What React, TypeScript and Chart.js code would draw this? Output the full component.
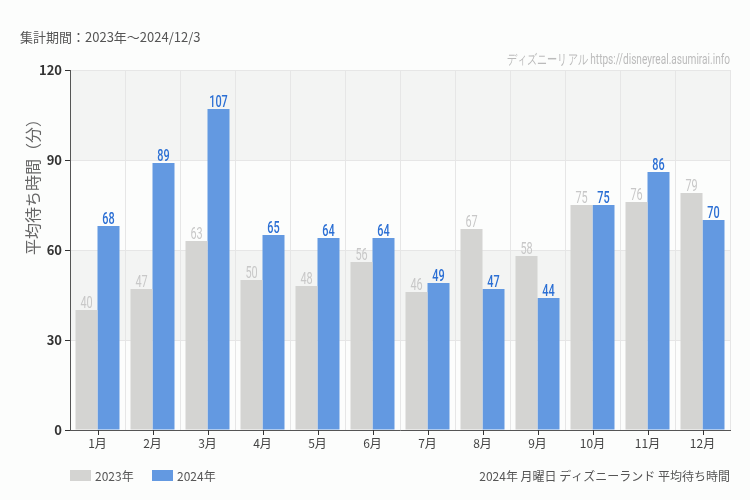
import React, { useEffect, useRef } from "react";
import { Chart, registerables } from "chart.js";

Chart.register(...registerables);

const months = ["1月", "2月", "3月", "4月", "5月", "6月", "7月", "8月", "9月", "10月", "11月", "12月"];
const values2023 = [40, 47, 63, 50, 48, 56, 46, 67, 58, 75, 76, 79];
const values2024 = [68, 89, 107, 65, 64, 64, 49, 47, 44, 75, 86, 70];
const seriesNames = ["2023年", "2024年"];
const yTicks = [0, 30, 60, 90, 120];

const titleText = "集計期間：2023年～2024/12/3";
const watermark = "ディズニーリアル https://disneyreal.asumirai.info";
const footerText = "2024年 月曜日 ディズニーランド 平均待ち時間";
const yTitle = "平均待ち時間（分）";

const GRAY = "#d4d4d2";
const BLUE = "#6399e1";
const BG = "#fcfdfc";
const BAND = "#f3f4f3";
const JP = '"Noto Sans CJK JP", "Noto Sans", sans-serif';

function narrowText(ctx: any, text: string, x: number, y: number, sx: number, align: string) {
  ctx.save();
  ctx.translate(x, y);
  ctx.scale(sx, 1);
  ctx.textAlign = align;
  ctx.fillText(text, 0, 0);
  ctx.restore();
}

const decor = {
  id: "decor",
  beforeDraw(chart: any) {
    const { ctx, chartArea, scales } = chart;
    ctx.save();
    ctx.fillStyle = BG;
    ctx.fillRect(0, 0, chart.width, chart.height);
    const y = scales.y;
    for (let i = 0; i < yTicks.length - 1; i++) {
      if (i % 2 === 1) {
        const top = y.getPixelForValue(yTicks[i + 1]);
        const bot = y.getPixelForValue(yTicks[i]);
        ctx.fillStyle = BAND;
        ctx.fillRect(chartArea.left, top, chartArea.right - chartArea.left, bot - top);
      }
    }
    ctx.restore();
  },
  afterDraw(chart: any) {
    const { ctx, chartArea, scales } = chart;
    ctx.save();
    const x = scales.x;
    ctx.strokeStyle = "#333";
    ctx.lineWidth = 1;
    for (let i = 0; i < months.length; i++) {
      const px = Math.round(x.getPixelForValue(i)) + 0.5;
      ctx.beginPath();
      ctx.moveTo(px, chartArea.bottom);
      ctx.lineTo(px, chartArea.bottom + 5);
      ctx.stroke();
    }
    // data labels
    chart.data.datasets.forEach((ds: any, di: number) => {
      const meta = chart.getDatasetMeta(di);
      ctx.font = di === 0 ? `16px Roboto` : `500 16px Roboto`;
      ctx.fillStyle = di === 0 ? "#c8c8c8" : "#2b6fd4";
      ctx.textBaseline = "alphabetic";
      meta.data.forEach((bar: any, i: number) => {
        narrowText(ctx, String(ds.data[i]), bar.x, bar.y - 2, 0.68, "center");
      });
    });
    // title
    ctx.font = `13px ${JP}`;
    ctx.fillStyle = "#555";
    ctx.textAlign = "left";
    ctx.textBaseline = "middle";
    ctx.fillText(titleText, 20, 37);
    // watermark
    ctx.font = `14px Roboto`;
    ctx.fillStyle = "#bbb";
    const ww = ctx.measureText(watermark).width;
    narrowText(ctx, watermark, 730, 60, 223 / ww, "right");
    // footer
    ctx.font = `12px ${JP}`;
    ctx.fillStyle = "#555";
    ctx.textAlign = "right";
    ctx.fillText(footerText, 730, 476);
    // legend
    ctx.textAlign = "left";
    ctx.fillStyle = GRAY;
    ctx.fillRect(70, 470, 21, 11);
    ctx.fillStyle = "#555";
    ctx.fillText(seriesNames[0], 95, 476);
    ctx.fillStyle = BLUE;
    ctx.fillRect(152, 470, 21, 11);
    ctx.fillStyle = "#555";
    ctx.fillText(seriesNames[1], 177, 476);
    // y title
    ctx.translate(33, 183);
    ctx.rotate(-Math.PI / 2);
    ctx.font = `16px ${JP}`;
    ctx.fillStyle = "#666";
    ctx.textAlign = "center";
    ctx.fillText(yTitle, 0, 0);
    ctx.restore();
  },
};

export default function App() {
  const ref = useRef<HTMLCanvasElement>(null);
  useEffect(() => {
    if (!ref.current) return;
    const chart = new Chart(ref.current, {
      type: "bar",
      data: {
        labels: months,
        datasets: [
          { label: seriesNames[0], data: values2023, backgroundColor: GRAY },
          { label: seriesNames[1], data: values2024, backgroundColor: BLUE },
        ],
      },
      options: {
        animation: false,
        responsive: false,
        devicePixelRatio: 1,
        layout: { padding: { left: 0, right: 20, top: 70, bottom: 0 } },
        datasets: { bar: { categoryPercentage: 0.8, barPercentage: 1 } },
        plugins: { legend: { display: false }, tooltip: { enabled: false } },
        scales: {
          x: {
            grid: { offset: true, color: "#e6e6e6", drawTicks: false },
            border: { color: "#555", width: 1 },
            ticks: { color: "#444", font: { family: JP, size: 12 }, padding: 6 },
            afterFit(s: any) {
              s.height = 70;
            },
          },
          y: {
            min: 0,
            max: 120,
            ticks: { stepSize: 30, color: "#333", font: { family: JP, size: 13, weight: "bold" }, padding: 3 },
            grid: { color: "#e6e6e6", tickColor: "#333", tickLength: 5 },
            border: { color: "#555", width: 1 },
            afterFit(s: any) {
              s.width = 70;
            },
          },
        },
      },
      plugins: [decor],
    });
    return () => chart.destroy();
  }, []);
  return (
    <div style={{ position: "absolute", left: 0, top: 0, width: 750, height: 500 }}>
      <canvas ref={ref} width={750} height={500} style={{ width: 750, height: 500 }} />
    </div>
  );
}
